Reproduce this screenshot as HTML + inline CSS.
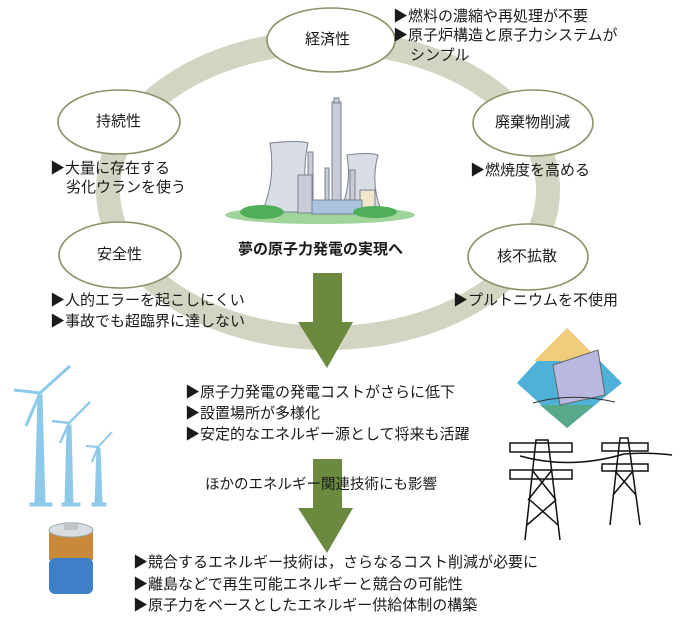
<!DOCTYPE html>
<html><head><meta charset="utf-8"><style>
body{margin:0;background:#fff;}
.w{position:relative;width:680px;height:618px;overflow:hidden;font-family:"Liberation Sans","Noto Sans CJK JP",sans-serif;color:#1a1a1a;}
.t{position:absolute;font-size:15px;line-height:20px;white-space:nowrap;}
svg{position:absolute;left:0;top:0;}
</style></head><body><div class="w">
<svg width="680" height="618" viewBox="0 0 680 618">
<ellipse cx="328" cy="190" rx="220" ry="148" fill="none" stroke="#d3d5c2" stroke-width="24"/>
<g fill="#fff" stroke="#8d8f68" stroke-width="1.6">
<ellipse cx="331" cy="40" rx="64" ry="32"/>
<ellipse cx="119" cy="122" rx="61" ry="32"/>
<ellipse cx="533" cy="123" rx="60" ry="33"/>
<ellipse cx="120" cy="255" rx="61" ry="33"/>
<ellipse cx="528" cy="257" rx="60" ry="33"/>
</g>
<!-- arrows -->
<g fill="#6b8a40">
<polygon points="313,273 342,273 342,322 353,322 327,368 298,322 313,322"/>
<polygon points="313,459 342,459 342,508 353,508 327,553 298,508 313,508"/>
</g>
<!-- power plant -->
<g stroke="#7a8090" stroke-width="1">
<ellipse cx="320" cy="215" rx="95" ry="9" fill="#9fd49a" stroke="none"/>
<path d="M270,143 Q300,140 308,143 Q300,180 312,212 L262,212 Q276,180 270,143Z" fill="#d9dde4"/>
<path d="M347,155 Q370,152 378,155 Q370,185 382,212 L340,212 Q352,185 347,155Z" fill="#d9dde4"/>
<rect x="332" y="102" width="9" height="110" fill="#c8ccd6"/>
<rect x="334" y="98" width="5" height="5" fill="#c8ccd6"/>
<rect x="308" y="152" width="5" height="55" fill="#c8ccd6"/>
<rect x="325" y="168" width="4" height="40" fill="#c8ccd6"/>
<rect x="350" y="170" width="5" height="40" fill="#c8ccd6"/>
<rect x="298" y="175" width="14" height="38" fill="#c8ccd6"/>
<rect x="360" y="190" width="15" height="22" fill="#efe6cc"/>
<rect x="312" y="200" width="50" height="14" fill="#a9c4dc"/>
</g>
<ellipse cx="262" cy="212" rx="22" ry="7" fill="#4fae5a"/>
<ellipse cx="375" cy="212" rx="22" ry="6" fill="#4fae5a"/>
<!-- wind turbines -->
<g fill="#8ec9ea" stroke="#8ec9ea">
<polygon points="38,395 42,395 45,505 35,505"/><rect x="30" y="503" width="22" height="3"/>
<line x1="40" y1="393" x2="70" y2="366" stroke-width="3"/><line x1="40" y1="393" x2="14" y2="390" stroke-width="3"/><line x1="40" y1="393" x2="26" y2="426" stroke-width="3"/>
<polygon points="67,425 71,425 73,505 65,505"/><rect x="62" y="503" width="18" height="3"/>
<line x1="69" y1="423" x2="90" y2="402" stroke-width="2.5"/><line x1="69" y1="423" x2="52" y2="421" stroke-width="2.5"/><line x1="69" y1="423" x2="60" y2="443" stroke-width="2.5"/>
<polygon points="97,448 100,448 102,505 95,505"/><rect x="92" y="503" width="14" height="3"/>
<line x1="98" y1="447" x2="112" y2="432" stroke-width="2"/><line x1="98" y1="447" x2="86" y2="446" stroke-width="2"/><line x1="98" y1="447" x2="92" y2="462" stroke-width="2"/>
</g>
<!-- battery -->
<rect x="49" y="530" width="44" height="30" fill="#c9883a"/>
<rect x="49" y="558" width="44" height="36" fill="#3f7fc8" rx="6"/>
<ellipse cx="71" cy="530" rx="22" ry="7" fill="#d8dde2" stroke="#9aa" />
<rect x="64" y="522" width="14" height="8" fill="#bfc4c8"/>
<!-- solar -->
<polygon points="567,328 622,383 567,428 517,383" fill="#4fb0d8"/>
<polygon points="567,328 600,361 534,361" fill="#f0cd7a"/>
<polygon points="540,405 594,405 567,428" fill="#58a88a"/>
<polygon points="553,365 598,350 605,395 560,405" fill="#b8b8e0" stroke="#666" stroke-width="1"/>
<path d="M533,403 Q570,392 615,402" stroke="#333" fill="none"/>
<!-- pylons -->
<g stroke="#111" stroke-width="1.5" fill="none">
<path d="M525,540 L536,440 L548,440 L560,540"/>
<rect x="510" y="443" width="62" height="9"/><rect x="510" y="470" width="62" height="9"/>
<path d="M532,470 L556,500 M552,470 L528,500 M530,500 L558,525 M556,500 L527,525"/>
<path d="M610,525 L620,438 L628,438 L640,525"/>
<rect x="602" y="443" width="46" height="8"/><rect x="602" y="464" width="46" height="7"/>
<path d="M615,471 L636,495 M633,471 L613,495"/>
<path d="M520,456 Q570,470 624,454 Q650,452 672,455"/>
</g>
</svg>
<div class="t" style="left:305px;top:30px">経済性</div>
<div class="t" style="left:96px;top:112px">持続性</div>
<div class="t" style="left:495px;top:113px">廃棄物削減</div>
<div class="t" style="left:97px;top:245px">安全性</div>
<div class="t" style="left:497px;top:247px">核不拡散</div>
<div class="t" style="left:393px;top:7px">▶燃料の濃縮や再処理が不要</div>
<div class="t" style="left:393px;top:26px">▶原子炉構造と原子力システムが</div>
<div class="t" style="left:410px;top:46px">シンプル</div>
<div class="t" style="left:50px;top:159px">▶大量に存在する</div>
<div class="t" style="left:66px;top:178px">劣化ウランを使う</div>
<div class="t" style="left:470px;top:161px">▶燃焼度を高める</div>
<div class="t" style="left:238px;top:240px;font-weight:bold">夢の原子力発電の実現へ</div>
<div class="t" style="left:50px;top:291px">▶人的エラーを起こしにくい</div>
<div class="t" style="left:50px;top:312px">▶事故でも超臨界に達しない</div>
<div class="t" style="left:453px;top:291px">▶プルトニウムを不使用</div>
<div class="t" style="left:185px;top:382px;line-height:21px">▶原子力発電の発電コストがさらに低下<br>▶設置場所が多様化<br>▶安定的なエネルギー源として将来も活躍</div>
<div class="t" style="left:205px;top:475px;font-size:14.5px">ほかのエネルギー関連技術にも影響</div>
<div class="t" style="left:133px;top:552px;line-height:21.5px">▶競合するエネルギー技術は，さらなるコスト削減が必要に<br>▶離島などで再生可能エネルギーと競合の可能性<br>▶原子力をベースとしたエネルギー供給体制の構築</div>
</div></body></html>
